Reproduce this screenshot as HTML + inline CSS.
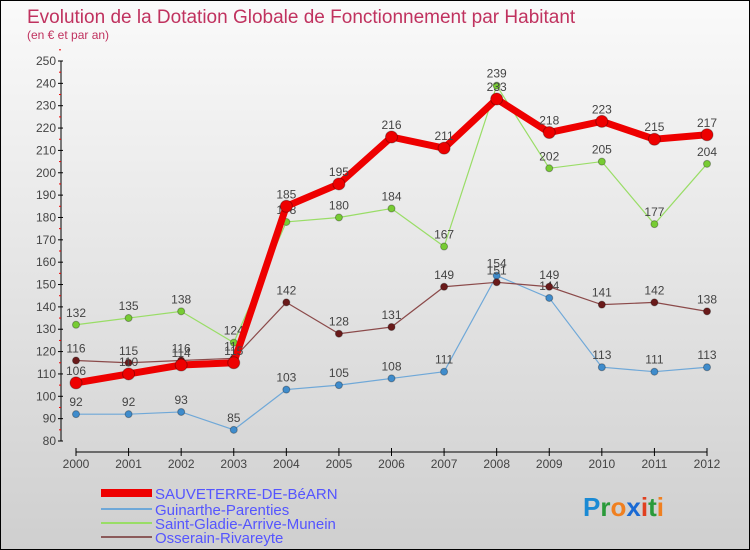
<!DOCTYPE html>
<html><head><meta charset="utf-8"><style>
body{margin:0}
#c{width:748px;height:548px;border:1px solid #000;background:linear-gradient(#fafafa,#cfcfcf);position:relative;overflow:hidden;font-family:"Liberation Sans",sans-serif}
</style></head><body>
<div id="c">
<svg id="s" width="748" height="548">
<text x="26" y="22" font-size="19" fill="#c0325f">Evolution de la Dotation Globale de Fonctionnement par Habitant</text>
<text x="26" y="38" font-size="12" fill="#c0325f">(en € et par an)</text>
<g id="axes"></g><g id="series"></g>
<g>
<rect x="100" y="488" width="51" height="8" fill="#e00"/>
<text x="154" y="498" font-size="15" fill="#55f">SAUVETERRE-DE-BéARN</text>
<rect x="100" y="507" width="51" height="2" fill="#6fa8d8"/>
<text x="154" y="514" font-size="15" fill="#55f">Guinarthe-Parenties</text>
<rect x="100" y="521" width="51" height="2" fill="#99dd66"/>
<text x="154" y="528" font-size="15" fill="#55f">Saint-Gladie-Arrive-Munein</text>
<rect x="100" y="535" width="51" height="2" fill="#8b5a5a"/>
<text x="154" y="542" font-size="15" fill="#55f">Osserain-Rivareyte</text>
</g>
<g font-size="26" font-weight="bold">
<text x="582" y="515"><tspan fill="#1a8ad4">P</tspan><tspan fill="#2a9a3a">r</tspan><tspan fill="#f08020">o</tspan><tspan fill="#1a6ad4">x</tspan><tspan fill="#e04020">i</tspan><tspan fill="#2a9a3a">t</tspan><tspan fill="#f08020">i</tspan></text>
</g>
</svg></div>
<script>
const years=[2000,2001,2002,2003,2004,2005,2006,2007,2008,2009,2010,2011,2012];
const sauveterre=[106,110,114,115,185,195,216,211,233,218,223,215,217];
const guinarthe=[92,92,93,85,103,105,108,111,154,144,113,111,113];
const saintGladie=[132,135,138,124,178,180,184,167,239,202,205,177,204];
const osserain=[116,115,116,117,142,128,131,149,151,149,141,142,138];
const yTicks=[80,90,100,110,120,130,140,150,160,170,180,190,200,210,220,230,240,250];
const NS="http://www.w3.org/2000/svg";
const X=i=>75+i*(706-75)/(years.length-1);
const Y=v=>440-(v-80)*(380/170);
function mk(t,a,p){const e=document.createElementNS(NS,t);for(const k in a)e.setAttribute(k,a[k]);p.appendChild(e);return e;}
const ax=document.getElementById('axes');
let l=mk('line',{x1:60,y1:Y(250),x2:60,y2:Y(80),stroke:'#000'},ax);


yTicks.forEach(v=>{
 mk('line',{x1:57,x2:62,y1:Y(v),y2:Y(v),stroke:'#000'},ax);
 mk('line',{x1:58,x2:60,y1:Y(v+5),y2:Y(v+5),stroke:'#e00'},ax);
 const t=mk('text',{x:55,y:Y(v)+4,'font-size':12,'text-anchor':'end',fill:'#444'},ax);t.textContent=v;
 
 
});
l=mk('line',{x1:X(0),y1:451,x2:X(12),y2:451,stroke:'#000'},ax);


years.forEach((y,i)=>{
 mk('line',{x1:X(i),x2:X(i),y1:447,y2:455,stroke:'#000'},ax);
 const t=mk('text',{x:X(i),y:467,'font-size':12,'text-anchor':'middle',fill:'#444'},ax);t.textContent=y;
 
 
});
const sg=document.getElementById('series');
function draw(data,name,col,dot,w,r){
 const g=mk('g',{},sg);
 
 
 mk('polyline',{points:data.map((v,i)=>X(i)+','+Y(v)).join(' '),fill:'none',stroke:col,'stroke-width':w},g);
 data.forEach((v,i)=>{
  const c=mk('circle',{cx:X(i),cy:Y(v),r:r,fill:dot,stroke:'rgba(0,0,0,0.3)'},g);
  
  
  const t=mk('text',{x:X(i),y:Y(v)-8,'font-size':12,'text-anchor':'middle',fill:'#444'},g);t.textContent=v;
  
  
 });
}
draw(guinarthe,'guinarthe','#6fa8d8','#3f8ccc',1.2,3.5);
draw(saintGladie,'saint-gladie','#99dd66','#77cc33',1.2,3.5);
draw(osserain,'osserain','#8b4a4a','#6a1a1a',1.2,3.5);
draw(sauveterre,'sauveterre','#ee0000','#ee0000',7,6);
</script>
</body></html>
